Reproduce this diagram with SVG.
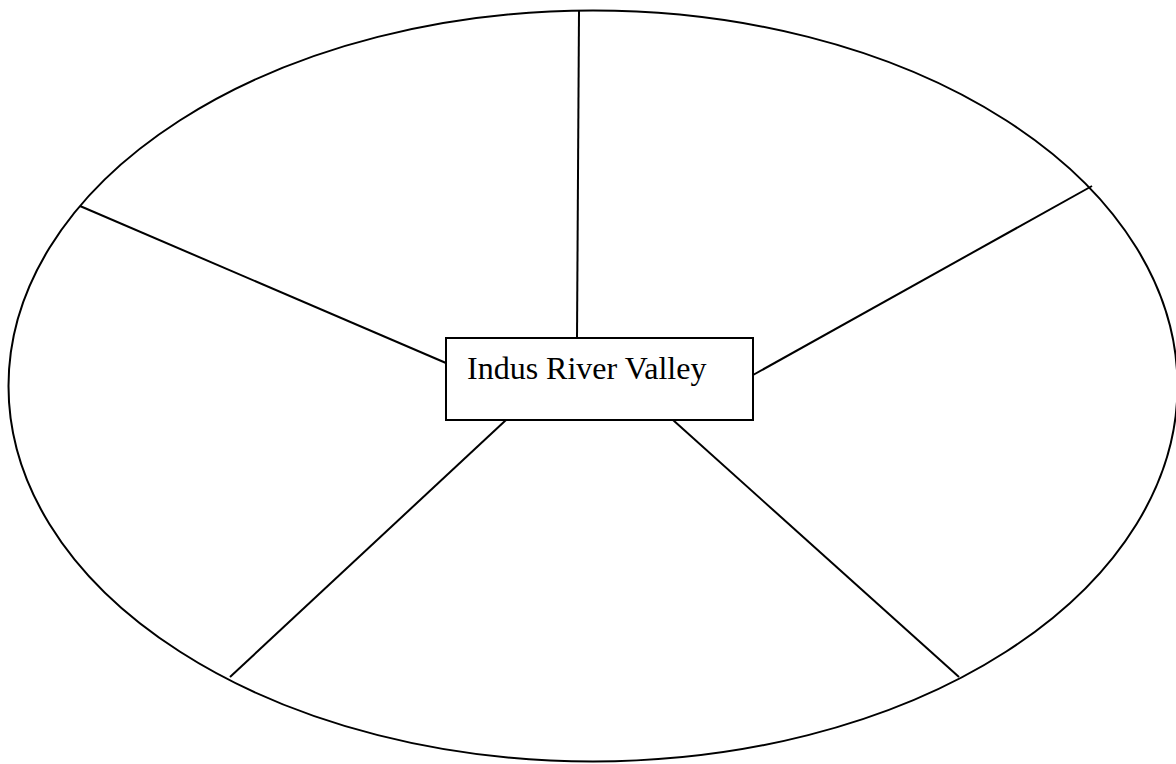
<svg xmlns="http://www.w3.org/2000/svg" width="1176" height="764" viewBox="0 0 1176 764">
<style>
.s{fill:none;stroke:#000;stroke-width:2}
.t{font-family:"Liberation Serif","Times New Roman",serif;font-size:32px;fill:#000}
</style>
<rect width="1176" height="764" fill="#fff"/>
<g id="ellipse"><ellipse class="s" cx="593" cy="386" rx="584.5" ry="375.5"/></g>
<g id="connectors">
<line class="s" x1="579" y1="11" x2="577" y2="338"/>
<line class="s" x1="80" y1="206" x2="446" y2="363"/>
<line class="s" x1="1092" y1="186" x2="753" y2="375"/>
<line class="s" x1="506" y1="420" x2="230" y2="677"/>
<line class="s" x1="673" y1="420" x2="959" y2="677"/>
</g>
<g id="center">
<rect x="446" y="338" width="307" height="82" fill="#fff" stroke="#000" stroke-width="2"/>
<text class="t" x="467" y="379">Indus River Valley</text>
</g>
</svg>
